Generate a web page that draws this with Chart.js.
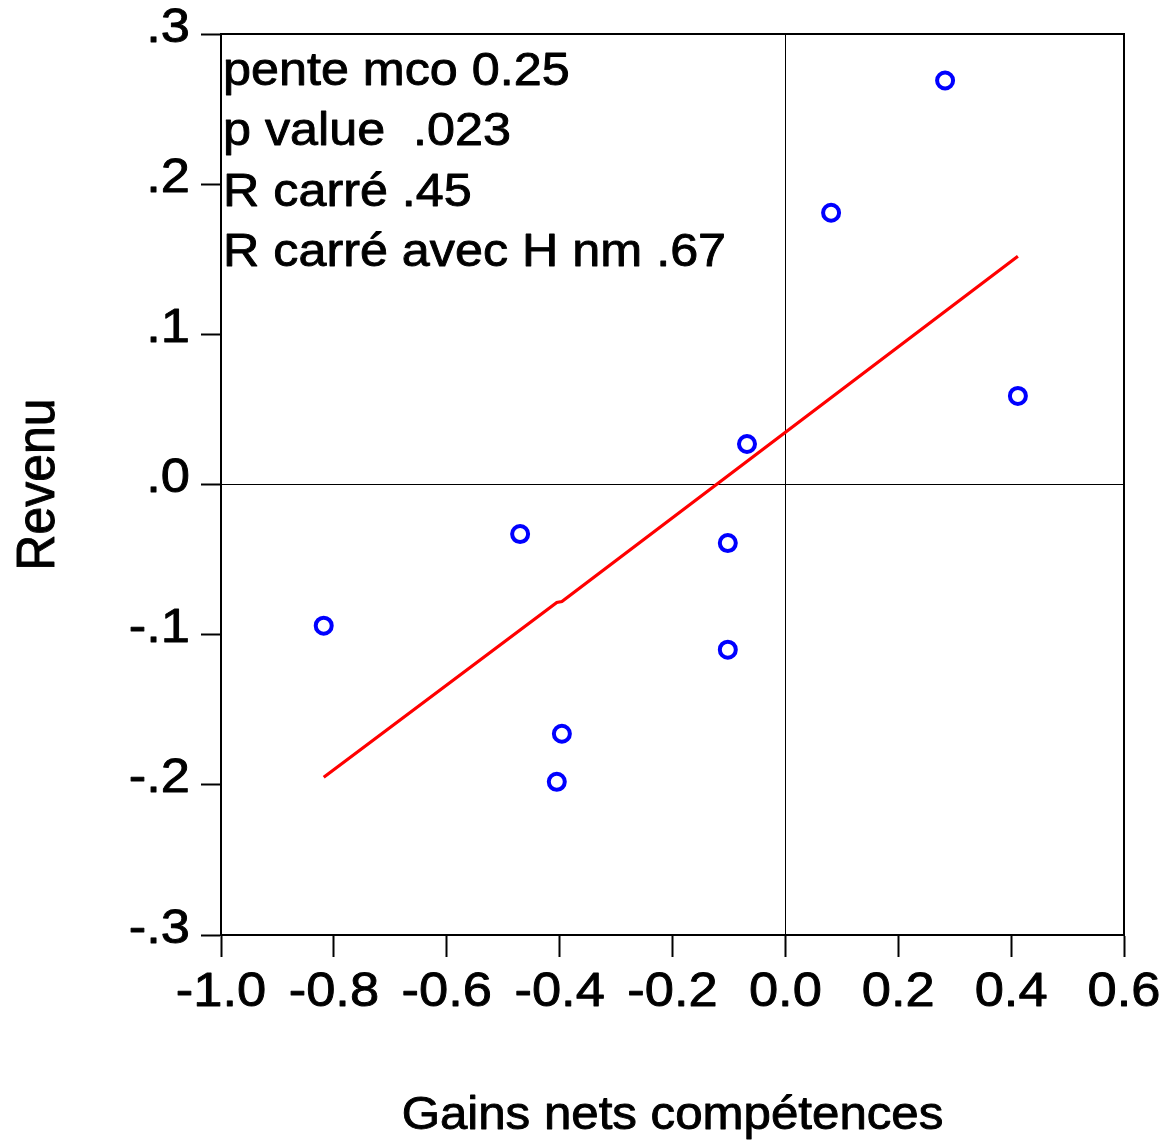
<!DOCTYPE html>
<html><head><meta charset="utf-8">
<script src="https://cdn.jsdelivr.net/npm/chart.js@4.4.0/dist/chart.umd.min.js"></script>
<style>html,body{margin:0;padding:0;background:#fff;} canvas{display:block;}</style>
</head><body>
<canvas id="c" width="1162" height="1142"></canvas>
<script>
// ---- data ----
const gainsX  = [0.283, 0.081, 0.412, -0.068, -0.470, -0.102, -0.818, -0.102, -0.396, -0.405];
const revenuY = [0.269, 0.181, 0.059,  0.027, -0.033, -0.039, -0.094, -0.110, -0.166, -0.198];
const fitX = [-0.818, -0.405, -0.396, 0.412];
const fitY = [-0.195, -0.0786, -0.0779, 0.152];
const xTickValues = [-1.0, -0.8, -0.6, -0.4, -0.2, 0, 0.2, 0.4, 0.6];
const xTickLabels = ['-1.0', '-0.8', '-0.6', '-0.4', '-0.2', '0.0', '0.2', '0.4', '0.6'];
const yTickValues = [-0.3, -0.2, -0.1, 0, 0.1, 0.2, 0.3];
const yTickLabels = ['-.3', '-.2', '-.1', '.0', '.1', '.2', '.3'];
const annotationLines = ['pente mco 0.25', 'p value  .023', 'R carré .45', 'R carré avec H nm .67'];
const xTitle = 'Gains nets compétences';
const yTitle = 'Revenu';

// ---- rendering ----
const FONT = "'Liberation Sans', Arial, sans-serif";
const canvas = document.getElementById('c');
const ctx = canvas.getContext('2d');
// slightly widened, slightly heavier text, as in the reference
const STRETCH = 1.07;
const protoFill = CanvasRenderingContext2D.prototype.fillText;
const protoStroke = CanvasRenderingContext2D.prototype.strokeText;
ctx.fillText = function (text, x, y) {
  const m = this.getTransform();
  this.save();
  this.translate(x, y);
  if (Math.abs(m.b) > 0.5) this.scale(1, STRETCH); else this.scale(STRETCH, 1);
  protoFill.call(this, text, 0, 0);
  this.strokeStyle = this.fillStyle;
  this.lineWidth = 0.9;
  this.lineJoin = 'round';
  protoStroke.call(this, text, 0, 0);
  this.restore();
};

const frameAndNotes = {
  id: 'frameAndNotes',
  afterDraw(chart) {
    const c = chart.ctx, a = chart.chartArea;
    c.save();
    c.strokeStyle = '#000';
    c.lineWidth = 2;
    c.strokeRect(a.left, a.top, a.right - a.left, a.bottom - a.top);
    c.fillStyle = '#000';
    c.font = '47px ' + FONT;
    c.textAlign = 'left';
    c.textBaseline = 'alphabetic';
    annotationLines.forEach((t, i) => c.fillText(t, a.left + 2, a.top + 51 + i * 60.3));
    c.restore();
  }
};

new Chart(ctx, {
  type: 'scatter',
  data: {
    datasets: [
      {
        type: 'line',
        data: fitX.map((x, i) => ({ x: x, y: fitY[i] })),
        borderColor: '#ff0000',
        borderWidth: 3.2,
        pointRadius: 0,
        fill: false,
        tension: 0,
        order: 2
      },
      {
        data: gainsX.map((x, i) => ({ x: x, y: revenuY[i] })),
        pointStyle: 'circle',
        pointRadius: 8,
        pointBorderWidth: 4,
        borderWidth: 4,
        borderColor: '#0000ff',
        pointBorderColor: '#0000ff',
        backgroundColor: 'rgba(0,0,0,0)',
        pointBackgroundColor: 'rgba(0,0,0,0)',
        order: 1
      }
    ]
  },
  options: {
    responsive: false,
    animation: false,
    devicePixelRatio: 1,
    layout: { padding: { top: 34, right: 38, left: 0, bottom: 0 } },
    plugins: { legend: { display: false }, tooltip: { enabled: false } },
    scales: {
      x: {
        type: 'linear',
        min: -1.0, max: 0.6,
        afterBuildTicks: s => { s.ticks = xTickValues.map(v => ({ value: v })); },
        afterFit: s => { s.height = 207; s.paddingLeft = 0; s.paddingRight = 0; },
        ticks: {
          callback: (v, i) => xTickLabels[i],
          color: '#000',
          font: { family: FONT, size: 49 },
          padding: 6,
          maxRotation: 0,
          autoSkip: false
        },
        grid: {
          drawOnChartArea: true,
          color: c => (c.tick && c.tick.value === 0) ? '#000' : 'rgba(0,0,0,0)',
          lineWidth: 1,
          tickColor: '#000',
          tickWidth: 2,
          tickLength: 22
        },
        border: { display: true, color: '#000', width: 2 },
        title: {
          display: true,
          text: xTitle,
          color: '#000',
          font: { family: FONT, size: 46 },
          padding: { top: 0, bottom: -2 }
        }
      },
      y: {
        type: 'linear',
        min: -0.3, max: 0.3,
        afterBuildTicks: s => { s.ticks = yTickValues.map(v => ({ value: v })); },
        afterFit: s => { s.width = 221; s.paddingTop = 0; s.paddingBottom = 0; },
        ticks: {
          callback: (v, i) => yTickLabels[i],
          color: '#000',
          font: { family: FONT, size: 49 },
          padding: 11,
          labelOffset: -6,
          autoSkip: false
        },
        grid: {
          drawOnChartArea: true,
          color: c => (c.tick && c.tick.value === 0) ? '#000' : 'rgba(0,0,0,0)',
          lineWidth: 1,
          tickColor: '#000',
          tickWidth: 2,
          tickLength: 20
        },
        border: { display: true, color: '#000', width: 2 },
        title: {
          display: true,
          text: yTitle,
          color: '#000',
          font: { family: FONT, size: 50 },
          padding: { top: 9, bottom: 0 }
        }
      }
    }
  },
  plugins: [frameAndNotes]
});
</script>
</body></html>
